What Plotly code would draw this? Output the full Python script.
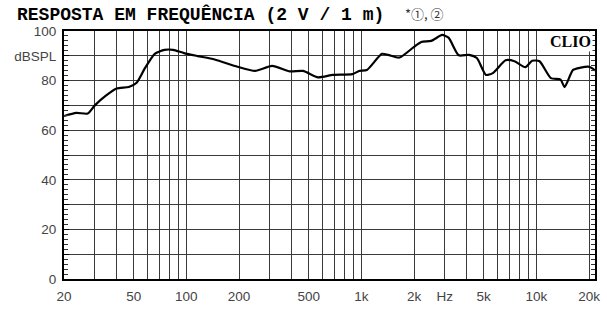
import numpy as np
import plotly.graph_objects as go

freq = [20, 23.5, 27.3, 30, 34.7, 40, 46.9, 52, 58, 66, 75, 84, 97, 116, 145, 196, 247, 309,
        391, 464, 566, 687, 889, 970, 1076, 1310, 1422, 1650, 1984, 2200, 2506, 2893, 3150,
        3600, 4130, 4570, 5150, 5640, 6670, 7500, 8660, 9460, 10420, 12100, 13750, 14500,
        16200, 17900, 19800, 21000, 21600]
spl = [65.7, 67, 66.7, 70, 73.9, 76.8, 77.4, 79.1, 85, 90.8, 92.4, 92.4, 91.1, 89.9, 88.5,
       85.6, 83.9, 85.9, 83.7, 83.9, 81.3, 82.3, 82.6, 83.9, 84.3, 90.8, 90.4, 89.3, 93.4,
       95.6, 96, 98.4, 97.3, 90.2, 90.4, 89.1, 82.3, 83, 88.2, 87.8, 85.4, 88, 87.8, 81,
       80.4, 77.4, 84.3, 85.2, 85.6, 84.8, 84.0]

x_grid = [20, 30, 40, 50, 60, 70, 80, 90, 100, 200, 300, 400, 500, 600, 700, 800, 900,
          1000, 2000, 3000, 4000, 5000, 6000, 7000, 8000, 9000, 10000, 20000]
x_text = ["20", "", "", "50", "", "", "", "", "100", "200", "", "", "500", "", "", "", "",
          "1k", "2k", "Hz", "", "5k", "", "", "", "", "10k", "20k"]
y_grid = [0, 10, 20, 30, 40, 50, 60, 70, 80, 90, 100]
y_text = ["0", "", "20", "", "40", "", "60", "", "80", "dBSPL", "100"]

title = "RESPOSTA EM FREQUÊNCIA (2 V / 1 m)"
note = "*①, ②"

W, H = 607, 311
L, R, T, B = 64, 7, 31, 23
pw, ph = W - L - R, H - T - B

def px(x):
    return (x - L) / pw

def py(y):
    return (H - B - y) / ph

decade = (594 - L) / 3.0
x_hi = np.log10(20000) + (W - R - 594) / decade

fig = go.Figure()
fig.add_trace(go.Scatter(x=freq, y=spl, mode="lines",
                         line=dict(color="black", width=2.2, shape="spline", smoothing=0.6),
                         showlegend=False, hoverinfo="skip"))
fig.add_trace(go.Scatter(x=[20], y=[0], yaxis="y2", mode="markers",
                         marker=dict(opacity=0), showlegend=False, hoverinfo="skip"))

tickfont = dict(family="Liberation Sans, Arial, sans-serif", size=13.5, color="#444")

fig.update_layout(
    width=W, height=H,
    margin=dict(l=L, r=R, t=T, b=B),
    paper_bgcolor="white", plot_bgcolor="white",
    xaxis=dict(type="log", range=[np.log10(20), x_hi],
               tickvals=x_grid, ticktext=x_text, tickfont=tickfont,
               showgrid=True, gridcolor="#3a3a3a", gridwidth=1.3,
               showline=True, linecolor="black", linewidth=2, mirror=True,
               ticks="", ticklabelstandoff=4, ticklabeloverflow="allow", zeroline=False),
    yaxis=dict(range=[0, 100], tickvals=y_grid, ticktext=y_text, tickfont=tickfont,
               showgrid=True, gridcolor="#3a3a3a", gridwidth=1.3,
               showline=True, linecolor="black", linewidth=2, mirror=True,
               ticks="inside", ticklen=5, tickcolor="black", tickwidth=1,
               minor=dict(ticks="inside", dtick=2, ticklen=4, tickcolor="#333", tickwidth=1),
               ticklabelstandoff=3, zeroline=False),
    yaxis2=dict(range=[0, 100], overlaying="y", side="right", showgrid=False,
                showticklabels=False, ticks="inside", ticklen=5, tickcolor="black",
                tickvals=y_grid,
                minor=dict(ticks="inside", dtick=2, ticklen=4, tickcolor="#333", tickwidth=1),
                zeroline=False),
)

fig.add_annotation(text="<b>" + title + "</b>", xref="paper", yref="paper",
                   x=px(15), y=py(13.5), xanchor="left", yanchor="middle", showarrow=False,
                   font=dict(family="Liberation Mono, Courier New, monospace", size=18, color="black"))
fig.add_annotation(text=note, xref="paper", yref="paper",
                   x=px(406), y=py(12.5), xanchor="left", yanchor="middle", showarrow=False,
                   font=dict(family="Noto Sans CJK JP, sans-serif", size=13, color="#333"))
fig.add_annotation(text="<b>CLIO</b>", xref="paper", yref="paper",
                   x=px(598), y=py(31), xanchor="right", yanchor="top", showarrow=False,
                   bgcolor="white", borderpad=1,
                   font=dict(family="Liberation Serif, Times New Roman, serif", size=16, color="black"))

fig.write_html("out.html", config={"displayModeBar": False},
               post_script="document.body.style.margin='0';document.body.style.overflow='hidden';")
